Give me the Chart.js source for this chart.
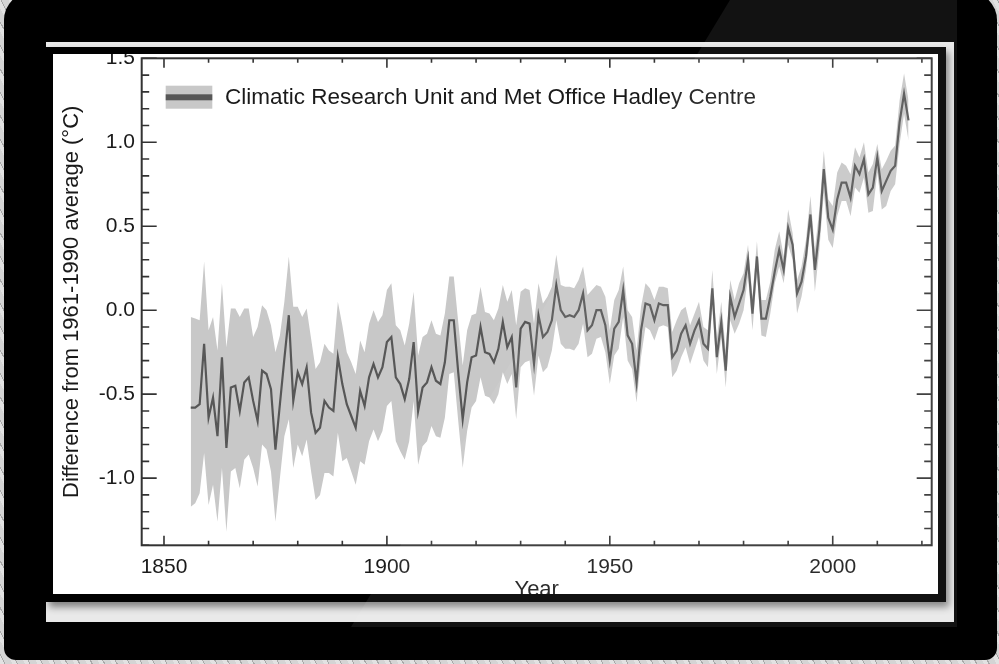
<!DOCTYPE html>
<html>
<head>
<meta charset="utf-8">
<title>Climatic Research Unit and Met Office Hadley Centre</title>
<script src="https://cdn.jsdelivr.net/npm/chart.js@4.4.1/dist/chart.umd.min.js"></script>
<style>
  html, body { margin: 0; padding: 0; }
  body {
    width: 999px; height: 664px; overflow: hidden; position: relative;
    background: #dadada repeating-linear-gradient(62deg, #e2e2e2 0 4px, #a8a8a8 4px 5px, #d4d4d4 5px 11px);
  }
  #tablet { position: absolute; left: 4px; top: -8px; width: 993px; height: 668px; background: #000; border-radius: 28px 28px 12px 12px; }
  #frame { position: absolute; left: 46px; top: 42px; width: 908px; height: 580px; background: #e9e9e9; }
  #border { position: absolute; left: 46px; top: 47px; width: 900px; height: 555px; background: #000; box-shadow: 3px 5px 7px rgba(0,0,0,0.45); }
  #screen { position: absolute; left: 53px; top: 54px; width: 885px; height: 540px; overflow: hidden; background: #fff; }
  #chartBox { position: absolute; left: 0; top: -30px; width: 885px; height: 600px; }
  #glare {
    position: absolute; left: 0; top: 0; width: 999px; height: 627px; pointer-events: none;
    background: rgba(255,255,255,0.07);
    clip-path: polygon(730px 0, 957px 0, 957px 627px, 351px 627px);
  }
</style>
</head>
<body>
<div id="tablet"></div>
<div id="frame"></div>
<div id="border"></div>
<div id="screen">
  <div id="chartBox"><canvas id="chart" width="885" height="600"></canvas></div>
</div>
<div id="glare"></div>

<script>
// === DONNEES ===
const years = [
  1856, 1857, 1858, 1859, 1860, 1861, 1862, 1863, 1864, 1865,
  1866, 1867, 1868, 1869, 1870, 1871, 1872, 1873, 1874, 1875,
  1876, 1877, 1878, 1879, 1880, 1881, 1882, 1883, 1884, 1885,
  1886, 1887, 1888, 1889, 1890, 1891, 1892, 1893, 1894, 1895,
  1896, 1897, 1898, 1899, 1900, 1901, 1902, 1903, 1904, 1905,
  1906, 1907, 1908, 1909, 1910, 1911, 1912, 1913, 1914, 1915,
  1916, 1917, 1918, 1919, 1920, 1921, 1922, 1923, 1924, 1925,
  1926, 1927, 1928, 1929, 1930, 1931, 1932, 1933, 1934, 1935,
  1936, 1937, 1938, 1939, 1940, 1941, 1942, 1943, 1944, 1945,
  1946, 1947, 1948, 1949, 1950, 1951, 1952, 1953, 1954, 1955,
  1956, 1957, 1958, 1959, 1960, 1961, 1962, 1963, 1964, 1965,
  1966, 1967, 1968, 1969, 1970, 1971, 1972, 1973, 1974, 1975,
  1976, 1977, 1978, 1979, 1980, 1981, 1982, 1983, 1984, 1985,
  1986, 1987, 1988, 1989, 1990, 1991, 1992, 1993, 1994, 1995,
  1996, 1997, 1998, 1999, 2000, 2001, 2002, 2003, 2004, 2005,
  2006, 2007, 2008, 2009, 2010, 2011, 2012, 2013, 2014, 2015,
  2016, 2017
];

const anomaly = [
  -0.58, -0.58, -0.56, -0.20, -0.64, -0.52, -0.75, -0.28, -0.82, -0.46,
  -0.45, -0.60, -0.43, -0.40, -0.54, -0.66, -0.36, -0.38, -0.47, -0.83,
  -0.56, -0.29, -0.03, -0.54, -0.37, -0.44, -0.34, -0.61, -0.73, -0.70,
  -0.54, -0.58, -0.60, -0.28, -0.44, -0.56, -0.63, -0.70, -0.48, -0.57,
  -0.40, -0.32, -0.40, -0.34, -0.19, -0.16, -0.40, -0.44, -0.53, -0.41,
  -0.19, -0.60, -0.46, -0.43, -0.34, -0.42, -0.44, -0.31, -0.06, -0.06,
  -0.37, -0.65, -0.43, -0.28, -0.27, -0.10, -0.25, -0.26, -0.31, -0.23,
  -0.07, -0.22, -0.16, -0.46, -0.11, -0.07, -0.08, -0.32, -0.03, -0.16,
  -0.13, -0.06, 0.15, 0.00, -0.04, -0.03, -0.04, 0.00, 0.10, -0.12,
  -0.09, 0.00, 0.00, -0.09, -0.30, -0.11, -0.07, 0.12, -0.15, -0.20,
  -0.43, -0.12, 0.04, 0.03, -0.06, 0.04, 0.03, 0.03, -0.28, -0.24,
  -0.14, -0.09, -0.20, -0.12, -0.06, -0.20, -0.23, 0.13, -0.28, -0.07,
  -0.36, 0.08, -0.04, 0.04, 0.12, 0.30, -0.02, 0.32, -0.05, -0.05,
  0.08, 0.23, 0.36, 0.24, 0.49, 0.39, 0.10, 0.17, 0.32, 0.57,
  0.24, 0.48, 0.84, 0.55, 0.48, 0.66, 0.76, 0.76, 0.67, 0.86,
  0.81, 0.90, 0.69, 0.73, 0.91, 0.71, 0.77, 0.83, 0.86, 1.12,
  1.29, 1.13
];

const upper = [
  -0.04, -0.05, -0.06, 0.29, -0.12, -0.04, -0.24, 0.16, -0.22, 0.01,
  0.01, -0.04, 0.01, 0.01, -0.16, -0.10, 0.03, 0.00, -0.09, -0.25,
  -0.15, 0.05, 0.32, 0.02, 0.02, -0.04, 0.01, -0.17, -0.35, -0.31,
  -0.20, -0.24, -0.26, 0.05, -0.09, -0.25, -0.31, -0.38, -0.18, -0.25,
  -0.08, 0.00, -0.07, -0.03, 0.12, 0.16, -0.09, -0.12, -0.21, -0.08,
  0.11, -0.27, -0.16, -0.14, -0.06, -0.14, -0.15, -0.02, 0.20, 0.20,
  -0.07, -0.33, -0.12, -0.03, -0.02, 0.14, -0.01, -0.02, -0.06, 0.01,
  0.15, 0.05, 0.12, -0.09, 0.11, 0.13, 0.12, -0.08, 0.16, 0.04,
  0.08, 0.14, 0.33, 0.15, 0.14, 0.14, 0.13, 0.18, 0.26, 0.09,
  0.12, 0.15, 0.14, 0.08, -0.12, 0.06, 0.12, 0.26, 0.00, -0.04,
  -0.24, 0.02, 0.16, 0.13, 0.06, 0.14, 0.14, 0.13, -0.13, -0.06,
  0.00, 0.02, -0.09, -0.02, 0.05, -0.10, -0.12, 0.24, -0.17, 0.05,
  -0.24, 0.18, 0.06, 0.16, 0.22, 0.39, 0.08, 0.41, 0.06, 0.06,
  0.17, 0.36, 0.47, 0.32, 0.60, 0.46, 0.18, 0.26, 0.42, 0.68,
  0.36, 0.60, 0.95, 0.66, 0.62, 0.82, 0.88, 0.86, 0.81, 0.97,
  0.91, 1.00, 0.82, 0.87, 0.99, 0.84, 0.89, 0.95, 0.98, 1.25,
  1.41, 1.25
];

const lower = [
  -1.17, -1.15, -1.09, -0.85, -1.16, -1.04, -1.26, -0.94, -1.32, -0.96,
  -0.94, -1.06, -0.89, -0.86, -0.94, -1.05, -0.80, -0.83, -0.96, -1.26,
  -1.00, -0.75, -0.65, -0.94, -0.80, -0.87, -0.77, -0.96, -1.13, -1.10,
  -0.97, -0.97, -0.99, -0.73, -0.90, -0.88, -0.96, -1.04, -0.90, -0.92,
  -0.78, -0.71, -0.78, -0.72, -0.57, -0.54, -0.78, -0.84, -0.89, -0.78,
  -0.54, -0.92, -0.81, -0.78, -0.69, -0.75, -0.76, -0.64, -0.38, -0.37,
  -0.66, -0.94, -0.72, -0.58, -0.54, -0.40, -0.51, -0.52, -0.56, -0.50,
  -0.37, -0.44, -0.38, -0.65, -0.34, -0.31, -0.30, -0.51, -0.27, -0.37,
  -0.34, -0.24, -0.06, -0.20, -0.23, -0.23, -0.24, -0.20, -0.08, -0.28,
  -0.26, -0.17, -0.16, -0.25, -0.44, -0.27, -0.23, -0.04, -0.30, -0.35,
  -0.55, -0.28, -0.10, -0.12, -0.18, -0.10, -0.09, -0.10, -0.40, -0.36,
  -0.28, -0.22, -0.32, -0.24, -0.16, -0.30, -0.34, 0.02, -0.38, -0.16,
  -0.46, -0.06, -0.14, -0.08, 0.00, 0.20, -0.12, 0.22, -0.15, -0.16,
  -0.02, 0.16, 0.26, 0.16, 0.39, 0.30, -0.02, 0.08, 0.24, 0.49,
  0.11, 0.36, 0.70, 0.42, 0.37, 0.56, 0.65, 0.65, 0.56, 0.73,
  0.70, 0.79, 0.58, 0.59, 0.82, 0.60, 0.62, 0.71, 0.75, 0.99,
  1.17, 1.01
];

const xTickLabels = [1850, 1900, 1950, 2000];
const yTickLabels = [-1.0, -0.5, 0.0, 0.5, 1.0, 1.5];
const serieLabel = "Climatic Research Unit and Met Office Hadley Centre";

// === STYLE ===
const encre = "#1a1a1a";
const axe = "#333333";
Chart.defaults.font.family = "'Liberation Sans', Arial, Helvetica, sans-serif";
Chart.defaults.color = encre;

const points = vals => years.map((an, i) => ({ x: an, y: vals[i] }));

// Cadre, graduations internes et légende dans le graphique
const cadre = {
  id: "cadre",
  afterDraw(chart) {
    const { ctx, chartArea: a, scales: { x, y } } = chart;
    ctx.save();
    ctx.strokeStyle = axe;
    ctx.lineWidth = 2;
    ctx.strokeRect(a.left, a.top, a.right - a.left, a.bottom - a.top);

    ctx.lineWidth = 1.6;
    ctx.beginPath();
    for (let v = 1850; v <= 2020; v += 10) {
      const px = x.getPixelForValue(v);
      const l = v % 50 === 0 ? 9.5 : 4.5;
      ctx.moveTo(px, a.bottom); ctx.lineTo(px, a.bottom - l);
      ctx.moveTo(px, a.top); ctx.lineTo(px, a.top + l);
    }
    for (let k = -14; k <= 15; k++) {
      const py = y.getPixelForValue(k / 10);
      const l = k % 5 === 0 ? 15 : 7.5;
      ctx.moveTo(a.left, py); ctx.lineTo(a.left + l, py);
      ctx.moveTo(a.right, py); ctx.lineTo(a.right - l, py);
    }
    ctx.stroke();

    // légende
    const ds = chart.data.datasets;
    const lx = a.left + 24, ly = a.top + 27.4;
    ctx.fillStyle = ds[1].backgroundColor;
    ctx.fillRect(lx, ly, 46.6, 23);
    ctx.fillStyle = ds[0].borderColor;
    ctx.fillRect(lx, ly + 8.6, 46.6, 6);
    ctx.fillStyle = encre;
    ctx.font = "22.5px 'Liberation Sans', Arial, sans-serif";
    ctx.textBaseline = "alphabetic";
    ctx.textAlign = "left";
    ctx.fillText(ds[0].label, a.left + 83.3, a.top + 45.5);
    ctx.restore();
  }
};

new Chart(document.getElementById("chart"), {
  type: "line",
  data: {
    datasets: [
      {
        label: serieLabel,
        data: points(anomaly),
        borderColor: "#575757",
        borderWidth: 2.2,
        pointRadius: 0,
        fill: false,
        tension: 0
      },
      {
        label: "max",
        data: points(upper),
        borderWidth: 0,
        borderColor: "rgba(0,0,0,0)",
        backgroundColor: "#c8c8c8",
        pointRadius: 0,
        fill: "+1"
      },
      {
        label: "min",
        data: points(lower),
        borderWidth: 0,
        borderColor: "rgba(0,0,0,0)",
        pointRadius: 0,
        fill: false
      }
    ]
  },
  options: {
    responsive: false,
    animation: false,
    layout: { padding: { left: 0, top: 34.3, right: 6.3, bottom: 0 } },
    plugins: { legend: { display: false }, tooltip: { enabled: false } },
    scales: {
      x: {
        type: "linear",
        min: 1845,
        max: 2022.2,
        afterBuildTicks: s => { s.ticks = xTickLabels.map(v => ({ value: v })); },
        afterFit: s => { s.height = 78.7; },
        grid: { display: false, drawTicks: false },
        border: { display: false },
        ticks: { padding: 9.5, autoSkip: false, maxRotation: 0, font: { size: 21 }, callback: v => String(v) },
        title: { display: true, text: "Year", font: { size: 22 }, padding: { top: 0, bottom: 20.6 } }
      },
      y: {
        min: -1.4,
        max: 1.5,
        afterBuildTicks: s => { s.ticks = yTickLabels.map(v => ({ value: v })); },
        afterFit: s => { s.width = 88.7; },
        grid: { display: false, drawTicks: false },
        border: { display: false },
        ticks: { padding: 6.7, autoSkip: false, font: { size: 21 }, callback: v => Number(v).toFixed(1) },
        title: { display: true, text: "Difference from 1961-1990 average (°C)", font: { size: 22 }, padding: { top: 6.2, bottom: 0 } }
      }
    }
  },
  plugins: [cadre]
});
</script>
</body>
</html>
